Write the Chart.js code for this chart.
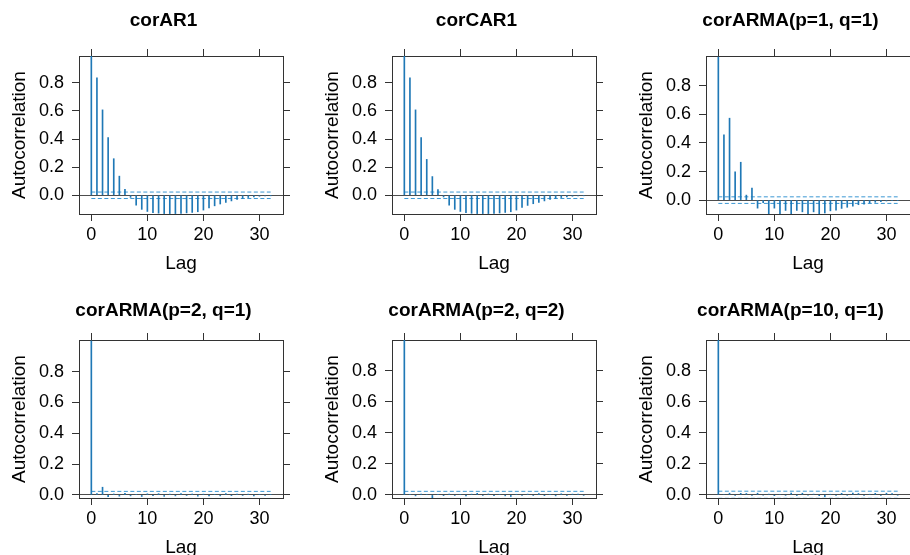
<!DOCTYPE html>
<html>
<head>
<meta charset="utf-8">
<script src="https://cdn.jsdelivr.net/npm/chart.js@4"></script>
<style>
  html, body { margin: 0; padding: 0; background: #fff; width: 910px; height: 555px; overflow: hidden; }
  canvas { position: absolute; }
</style>
</head>
<body>
<canvas id="p0" width="327" height="278"></canvas>
<canvas id="p1" width="327" height="278"></canvas>
<canvas id="p2" width="327" height="278"></canvas>
<canvas id="p3" width="327" height="278"></canvas>
<canvas id="p4" width="327" height="278"></canvas>
<canvas id="p5" width="327" height="278"></canvas>
<script>
// Lags shown on every panel
const lagValues = [0, 1, 2, 3, 4, 5, 6, 7, 8, 9, 10, 11, 12, 13, 14, 15, 16,
                   17, 18, 19, 20, 21, 22, 23, 24, 25, 26, 27, 28, 29, 30, 31, 32];

// Residual autocorrelation per correlation structure
const acfCorAR1 = [1, 0.834, 0.607, 0.41, 0.26, 0.136, 0.043, -0.015, -0.07, -0.10, -0.115,
  -0.123, -0.127, -0.13, -0.13, -0.13, -0.128, -0.125, -0.122, -0.117, -0.105, -0.09,
  -0.075, -0.062, -0.05, -0.04, -0.03, -0.022, -0.016, -0.011, -0.007, -0.004, -0.002];
const acfCorCAR1 = [1, 0.834, 0.607, 0.41, 0.255, 0.133, 0.04, -0.012, -0.07, -0.10, -0.115,
  -0.124, -0.128, -0.13, -0.13, -0.13, -0.128, -0.126, -0.122, -0.117, -0.105, -0.087,
  -0.072, -0.06, -0.05, -0.04, -0.03, -0.022, -0.016, -0.011, -0.007, -0.004, -0.002];
const acfCorARMA11 = [1, 0.456, 0.573, 0.198, 0.265, 0.035, 0.084, -0.056, -0.018, -0.1, -0.056,
  -0.1, -0.072, -0.1, -0.072, -0.082, -0.096, -0.082, -0.096, -0.09, -0.075, -0.07,
  -0.058, -0.05, -0.043, -0.032, -0.028, -0.02, -0.015, -0.01, -0.006, -0.004, -0.002];
const acfCorARMA21 = [1, 0.008, 0.05, -0.012, 0.006, -0.008, 0.01, -0.006, 0.004, -0.01, 0.007,
  -0.005, 0.008, -0.009, 0.005, -0.006, 0.009, -0.004, 0.006, -0.008, 0.005, -0.007,
  0.004, -0.006, 0.008, -0.005, 0.006, -0.004, 0.005, -0.006, 0.004, -0.003, 0.003];
const acfCorARMA22 = [1, 0.004, -0.006, 0.005, 0.003, -0.02, 0.004, -0.005, 0.006, -0.004, 0.003,
  -0.006, 0.005, 0.01, -0.004, 0.006, -0.005, 0.003, -0.006, -0.01, 0.004, -0.003,
  0.005, -0.004, 0.008, -0.005, 0.004, -0.006, 0.007, -0.004, 0.005, 0.006, -0.003];
const acfCorARMA101 = [1, 0.003, 0.01, -0.004, 0.009, 0.008, -0.005, 0.01, -0.003, 0.004, -0.006,
  0.003, -0.004, 0.011, -0.005, 0.01, -0.003, 0.004, -0.006, -0.012, 0.003, -0.004,
  0.009, -0.003, 0.01, 0.008, -0.004, 0.003, 0.009, -0.005, 0.01, 0.008, -0.003];

const panelTitles = ['corAR1', 'corCAR1', 'corARMA(p=1, q=1)',
                     'corARMA(p=2, q=1)', 'corARMA(p=2, q=2)', 'corARMA(p=10, q=1)'];
const panelSeries = [acfCorAR1, acfCorCAR1, acfCorARMA11, acfCorARMA21, acfCorARMA22, acfCorARMA101];

// Axis ticks and limits
const xTickValues = [0, 10, 20, 30];
const yTickValues = [0, 0.2, 0.4, 0.6, 0.8];
const xLimits = [-2.2, 34.2];
const yLowerLimits = [-0.133, -0.133, -0.097, -0.02, -0.02, -0.021];
const yUpperLimits = [0.99, 0.99, 1.008, 1.006, 1.0, 1.0];

// Approximate 95% bounds for white noise
const confLimit = 0.023;

const FONT = '"Liberation Sans", Arial, Helvetica, sans-serif';
const BAR_COLOR = '#1f78b6';
const BAND_COLOR = '#3b97d3';
const FRAME_COLOR = '#333333';
const TICK_LEN = 7;

const canvasLeft = [0, 313, 627];
const canvasTop = [0, 284];
// space above the panel title, per row (the top axis takes the rest)
const titleGap = [9.6, 15.1];
const headerHeight = 56;
const titleLineHeight = 19 * 1.2;

function fixedTicks(values) {
  return (scale) => { scale.ticks = values.map(v => ({ value: v })); };
}

function frameAxis(position, extra) {
  return Object.assign({
    type: 'linear',
    position: position,
    offset: false,
    border: { display: true, color: FRAME_COLOR, width: 1 },
    grid: { drawOnChartArea: false, drawTicks: true, tickLength: TICK_LEN,
            tickColor: FRAME_COLOR, offset: false },
    ticks: { display: false, autoSkip: false, maxRotation: 0 }
  }, extra);
}

panelSeries.forEach((series, i) => {
  const row = Math.floor(i / 3);
  const canvas = document.getElementById('p' + i);
  canvas.style.left = canvasLeft[i % 3] + 'px';
  canvas.style.top = canvasTop[row] + 'px';

  const bars = lagValues.map((lag, k) => ({ x: lag, y: series[k] }));
  const first = lagValues[0];
  const last = lagValues[lagValues.length - 1];
  const topAxisHeight = headerHeight - titleGap[row] - titleLineHeight;

  new Chart(canvas, {
    type: 'bar',
    data: {
      datasets: [
        {
          type: 'bar',
          data: bars,
          backgroundColor: BAR_COLOR,
          borderWidth: 0,
          barThickness: 1,
          xAxisID: 'x', yAxisID: 'y'
        },
        {
          type: 'line',
          data: [{ x: first, y: confLimit }, { x: last, y: confLimit }],
          borderColor: BAND_COLOR, borderWidth: 1, borderDash: [4, 2.5],
          pointRadius: 0, fill: false, xAxisID: 'x', yAxisID: 'y'
        },
        {
          type: 'line',
          data: [{ x: first, y: -confLimit }, { x: last, y: -confLimit }],
          borderColor: BAND_COLOR, borderWidth: 1, borderDash: [4, 2.5],
          pointRadius: 0, fill: false, xAxisID: 'x', yAxisID: 'y'
        }
      ]
    },
    options: {
      responsive: false,
      animation: false,
      events: [],
      layout: { padding: 0 },
      plugins: {
        legend: { display: false },
        tooltip: { enabled: false },
        title: {
          display: true,
          text: panelTitles[i],
          color: '#000',
          font: { family: FONT, size: 19, weight: 'bold' },
          padding: { top: titleGap[row], bottom: 0 }
        }
      },
      scales: {
        x: frameAxis('bottom', {
          min: xLimits[0], max: xLimits[1],
          afterBuildTicks: fixedTicks(xTickValues),
          afterFit: (s) => { s.height = 64; },
          ticks: { display: true, autoSkip: false, maxRotation: 0, padding: 3,
                   color: '#000', font: { family: FONT, size: 18 },
                   callback: (v) => String(v) },
          title: { display: true, text: 'Lag', color: '#000',
                   font: { family: FONT, size: 19 }, padding: { top: 0, bottom: 3.2 } }
        }),
        x2: frameAxis('top', {
          min: xLimits[0], max: xLimits[1],
          afterBuildTicks: fixedTicks(xTickValues),
          afterFit: (s) => { s.height = topAxisHeight; }
        }),
        y: frameAxis('left', {
          min: yLowerLimits[i], max: yUpperLimits[i],
          afterBuildTicks: fixedTicks(yTickValues),
          afterFit: (s) => { s.width = 79; },
          grid: {
            drawOnChartArea: true, drawTicks: true, tickLength: TICK_LEN,
            tickColor: FRAME_COLOR, lineWidth: 1,
            color: (ctx) => (ctx.tick && ctx.tick.value === 0) ? '#4d4d4d' : 'rgba(0,0,0,0)'
          },
          ticks: { display: true, autoSkip: false, padding: 8, color: '#000',
                   font: { family: FONT, size: 18 },
                   callback: (v) => Number(v).toFixed(1) },
          title: { display: true, text: 'Autocorrelation', color: '#000',
                   font: { family: FONT, size: 19 }, padding: { top: 8.6, bottom: 0 } }
        }),
        y2: frameAxis('right', {
          min: yLowerLimits[i], max: yUpperLimits[i],
          afterBuildTicks: fixedTicks(yTickValues),
          afterFit: (s) => { s.width = 44; }
        })
      }
    }
  });
});
</script>
</body>
</html>
